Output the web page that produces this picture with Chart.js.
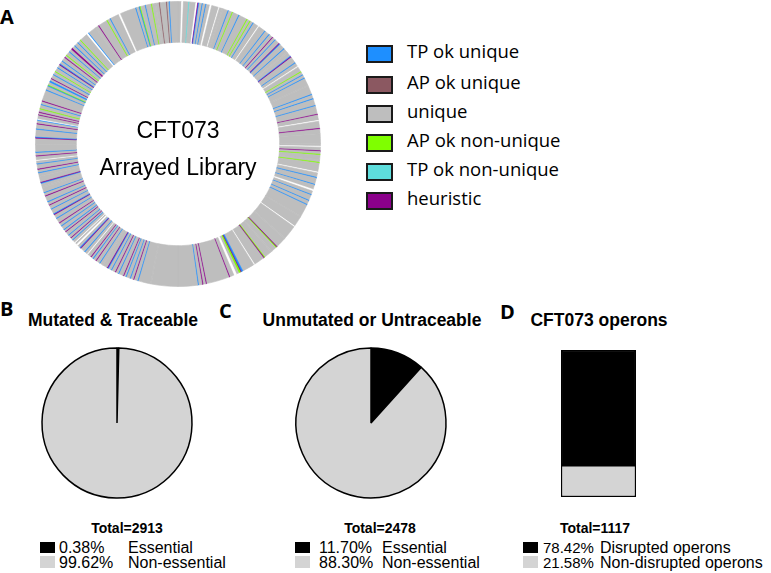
<!DOCTYPE html>
<html><head><meta charset="utf-8">
<script src="https://cdn.jsdelivr.net/npm/chart.js@4/dist/chart.umd.min.js"></script>
<style>
html,body{margin:0;padding:0;background:#fff;}
#wrap{position:relative;width:771px;height:573px;overflow:hidden;background:#fff;}
#wrap canvas{position:absolute;}
.t{position:absolute;white-space:pre;line-height:1;color:#000;}
.arial{font-family:"Liberation Sans",Arial,sans-serif;}
.open{font-family:"Open Sans",sans-serif;}
.lbl{font-family:"Open Sans",sans-serif;font-weight:700;}
.box{position:absolute;box-sizing:border-box;}
</style></head><body>
<div id="wrap">
  <canvas id="ring" width="300" height="288" style="left:28px;top:0px"></canvas>
  <canvas id="pieB" width="180" height="180" style="left:27px;top:333px"></canvas>
  <canvas id="pieC" width="180" height="180" style="left:281px;top:333px"></canvas>
  <canvas id="barD" width="95" height="167" style="left:551px;top:340px"></canvas>
</div>
<script>
// ---------- DATA ----------
// Panel A legend
const ringLegendLabels = ['TP ok unique','AP ok unique','unique','AP ok non-unique','TP ok non-unique','heuristic'];
const ringLegendKeys   = ['b','m','g','l','c','p'];
// Panel A ring: segments clockwise from 12 o'clock, kind letter + relative span
const ringQ1 = ['g4','w2','g6','c1','g7','w2','p1','b1','g3','b1','g3','b1','g4','w2','g8','w1','g3','g1','g6','b1','g4','l1','g7','b1','g9','l1','g3','l1','g3','b1','g6','w1','g8','b1','g5','b1','g4','p1','g3','b1','g5','p1','b1','g6','b1','g4','g1','g5','b1','p1','g7','b1','g4','w1','g6','l1','g3','b1','g3','b1','g8','g1','g10','b1','g4','b1','g7','b1','g9','p1','g6','w1','g8','p1','g5','g11'];
const ringQ2 = ['g3','w1','g4','p1','g3','l1','g5','g1','g2','l1','g10','w1','g5','b1','g7','b1','g5','w2','g4','b1','g6','b1','g4','b1','g14','g1','g12','w1','g16','g1','g12','p1','l1','g6','g1','g9','l1','p1','g12','w1','g14','b2','p1','l2','g3','w3','g5','p1','g26','p1','g3','p1','g4','b1','g22'];
const ringQ3 = ['g30','g1','g14','b1','g4','p1','g3','b1','g4','b1','g2','p1','g5','b1','g3','p1','g4','b1','g3','b1','p1','g5','g1','g3','b1','g4','p1','g3','b1','g2','p1','g4','w1','g3','b1','g5','p1','b1','g3','w2','g2','w1','g3','b1','g2','p1','g3','b1','g4','p1','g2','b1','g4','b1','g3','p1','g5','b1','g4','p1','b1','g5','b1','g4','p1','g3','b1','g6','p1','g3','b1','g5','g1','g4','b1','p1','g6','g4','b1','g3','p1','g5','b1','g3','w1','g4','p1','g3','b1','g8'];
const ringQ4 = ['g7','p1','b1','g8','b1','g5','p1','g3','b1','w1','g4','p1','g2','p1','g3','l1','g4','b1','g3','p1','g12','b1','g4','b1','l1','g3','b1','b1','g2','p1','g4','b1','g3','l1','g4','b1','g3','p1','b1','g3','b1','g4','p1','g2','l1','g4','b1','g3','p1','p1','g3','b1','g4','b1','g3','l1','g9','w2','b1','g9','g1','g3','p1','g10','l1','g3','b1','g10','w2','g18','b1','g3','b1','l1','g5','b1','g6','l1','g3','g1','g4','m1','g7','m1','g2','b1','g9'];
const ringCenterText = ['CFT073','Arrayed Library'];

// Panel B
const bTitle = 'Mutated & Traceable';
const bLabels = ['Essential','Non-essential'];
const bValues = [0.38, 99.62];
const bTotal = 2913;
// Panel C
const cTitle = 'Unmutated or Untraceable';
const cLabels = ['Essential','Non-essential'];
const cValues = [11.70, 88.30];
const cTotal = 2478;
// Panel D
const dTitle = 'CFT073 operons';
const dLabels = ['Disrupted operons','Non-disrupted operons'];
const dValues = [78.42, 21.58];
const dTotal = 1117;

// ---------- STYLE ----------
const kindColor = {b:'#1E8FFF', m:'#8B5861', g:'#BEBEBE', l:'#7FFF00', c:'#5EDEDD', p:'#8B008B', w:'#FFFFFF'};
const BLACK = '#000000', LIGHT = '#D4D4D4';

Chart.defaults.animation = false;
Chart.defaults.plugins.legend.display = false;
Chart.defaults.plugins.tooltip.enabled = false;
Chart.defaults.events = [];

const wrap = document.getElementById('wrap');
function addText(txt, cls, x, y, size, weight, align, w){
  const d = document.createElement('div');
  d.className = 't ' + cls;
  d.textContent = txt;
  d.style.fontSize = size + 'px';
  if (weight) d.style.fontWeight = weight;
  if (align === 'center'){ d.style.left = (x - w/2) + 'px'; d.style.width = w + 'px'; d.style.textAlign = 'center'; }
  else d.style.left = x + 'px';
  d.style.top = y + 'px';
  wrap.appendChild(d);
  return d;
}
function addBox(x, y, w, h, fill, border){
  const b = document.createElement('div');
  b.className = 'box';
  b.style.left = x + 'px'; b.style.top = y + 'px';
  b.style.width = w + 'px'; b.style.height = h + 'px';
  b.style.background = fill;
  if (border) b.style.border = border;
  wrap.appendChild(b);
}

// ---------- PANEL A: ring ----------
const segs = [...ringQ1, ...ringQ2, ...ringQ3, ...ringQ4];
const ringKinds = segs.map(s => s[0]);
const ringSpans = segs.map(s => parseFloat(s.slice(1)));
const ringFill = ringKinds.map(k => kindColor[k]);
new Chart(document.getElementById('ring'), {
  type: 'doughnut',
  data: { labels: ringKinds, datasets: [{ data: ringSpans, backgroundColor: ringFill, borderColor: ringFill, borderWidth: 0.6, hoverOffset: 0, radius: 142.5, cutout: 102.5 }] },
  options: { responsive: false, maintainAspectRatio: false, layout: { padding: 0 } }
});
addText(ringCenterText[0], 'arial', 178, 118.5, 23, 400, 'center', 240);
addText(ringCenterText[1], 'arial', 178, 155.5, 23, 400, 'center', 240);
addText('A', 'lbl', 0, 7, 20, 700);

const legTops = [45, 76, 105, 134, 163, 192];
ringLegendLabels.forEach((lab, i) => {
  addBox(366, legTops[i], 27, 18, kindColor[ringLegendKeys[i]], '2px solid #1a1a1a');
  addText(lab, 'open', 407, legTops[i] - 3.4, 18.5, 400);
});

// ---------- PANELS B, C: pies ----------
function pie(id, values){
  new Chart(document.getElementById(id), {
    type: 'pie',
    data: { labels: ['a','b'], datasets: [{ data: values, backgroundColor: [BLACK, LIGHT], borderColor: BLACK, borderWidth: 1.5, hoverOffset: 0, radius: 75 }] },
    options: { responsive: false, maintainAspectRatio: false, layout: { padding: 0 } }
  });
}
pie('pieB', bValues);
pie('pieC', cValues);

// ---------- PANEL D: stacked bar ----------
new Chart(document.getElementById('barD'), {
  type: 'bar',
  data: { labels: [dTitle], datasets: [
    { label: dLabels[1], data: [dValues[1]], backgroundColor: LIGHT, borderColor: BLACK, borderWidth: 1.5, borderSkipped: false, barPercentage: 1, categoryPercentage: 1 },
    { label: dLabels[0], data: [dValues[0]], backgroundColor: BLACK, borderColor: BLACK, borderWidth: 1.5, borderSkipped: false, barPercentage: 1, categoryPercentage: 1 }
  ]},
  options: { responsive: false, maintainAspectRatio: false, layout: { padding: 10 },
    scales: { x: { display: false, stacked: true }, y: { display: false, stacked: true, min: 0, max: 100 } } }
});

// ---------- panel texts ----------
addText('B', 'lbl', 0, 299, 20, 700);
addText('C', 'lbl', 219, 301, 20, 700);
addText('D', 'lbl', 500, 302, 20, 700);

addText(bTitle, 'arial', 113, 312, 17.5, 700, 'center', 260);
addText(cTitle, 'arial', 372, 312, 17.5, 700, 'center', 260);
addText(dTitle, 'arial', 599, 312, 17.5, 700, 'center', 260);

addText('Total=' + bTotal, 'arial', 127, 521, 14, 700, 'center', 120);
addText('Total=' + cTotal, 'arial', 380, 521, 14, 700, 'center', 120);
addText('Total=' + dTotal, 'arial', 595, 521, 14, 700, 'center', 120);

function smallLegend(boxX, pctX, labX, values, labels, pctSize){
  const fills = [BLACK, LIGHT];
  const tops = [539.5, 554.5];
  const boxTops = [542, 556];
  for (let i = 0; i < 2; i++){
    addBox(boxX, boxTops[i], 15, i ? 12 : 11, fills[i]);
    addText(values[i].toFixed(2) + '%', 'arial', pctX, tops[i] + (16 - pctSize) * 0.85, pctSize, 400);
    addText(labels[i], 'arial', labX, tops[i], 16, 400);
  }
}
smallLegend(40, 59, 128, bValues, bLabels, 16);
smallLegend(295, 319, 382, cValues, cLabels, 16);
smallLegend(523, 543, 600, dValues, dLabels, 15);
</script>
</body></html>
